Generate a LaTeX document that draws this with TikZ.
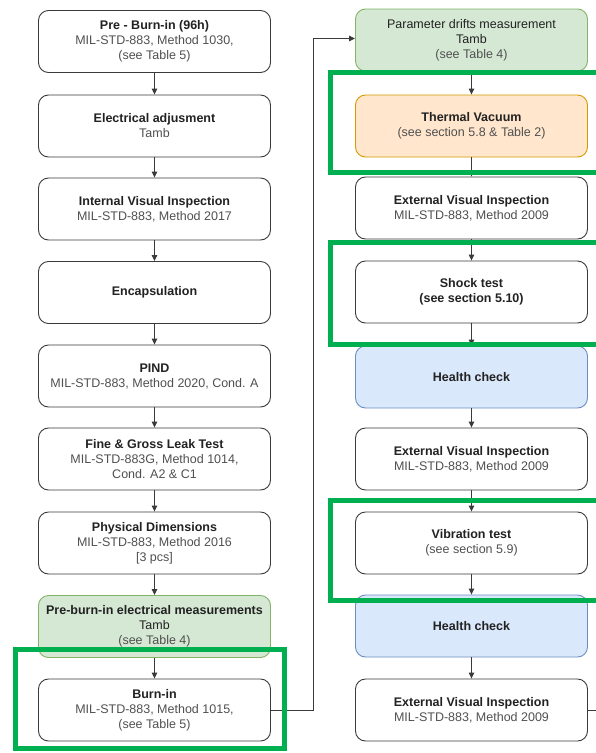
\documentclass[tikz,border=0pt]{standalone}
\usepackage{fontspec}
\setmainfont{Liberation Sans}
\usetikzlibrary{arrows.meta}
\definecolor{boxline}{HTML}{3A3A3A}
\definecolor{titlec}{HTML}{222222}
\definecolor{subc}{HTML}{505050}
\definecolor{gfill}{HTML}{D5E8D4}
\definecolor{gline}{HTML}{82B366}
\definecolor{ofill}{HTML}{FFE6CC}
\definecolor{oline}{HTML}{D79B00}
\definecolor{bfill}{HTML}{DAE8FC}
\definecolor{bline}{HTML}{6C8EBF}
\definecolor{frame}{HTML}{00B050}
\newcommand{\ttl}[1]{{\bfseries\color{titlec}#1}}
\newcommand{\sbt}[1]{{\color{subc}#1}}
\newcommand{\drk}[1]{{\color{titlec}#1}}
\begin{document}
\begin{tikzpicture}[x=1pt,y=-1pt,
  stepbox/.style={draw=boxline, line width=0.9pt, fill=white, rounded corners=10pt,
    minimum width=232pt, minimum height=62pt, inner sep=0pt, align=center,
    font=\fontsize{12.5}{15}\selectfont},
  greenbox/.style={stepbox, draw=gline, fill=gfill},
  orangebox/.style={stepbox, draw=oline, fill=ofill},
  bluebox/.style={stepbox, draw=bline, fill=bfill},
  arr/.style={draw=boxline, line width=0.9pt, -{Triangle[length=6pt,width=5.5pt]}},
  conn/.style={draw=boxline, line width=0.9pt},
  frm/.style={draw=frame, line width=5pt}
]
\useasboundingbox (0,0) rectangle (596,753);
\clip (0,0) rectangle (596,753);
\fill[white] (0,0) rectangle (596,753);

% left column
\node[stepbox] (l1) at (154.5,41.5) {\ttl{Pre - Burn-in (96h)}\\\sbt{MIL-STD-883, Method 1030,}\\\sbt{(see Table 5)}};
\node[stepbox] (l2) at (154.5,126) {\ttl{Electrical adjusment}\\\sbt{Tamb}};
\node[stepbox] (l3) at (154.5,209) {\ttl{Internal Visual Inspection}\\\sbt{MIL-STD-883, Method 2017}};
\node[stepbox] (l4) at (154.5,292.5) {\ttl{Encapsulation}};
\node[stepbox] (l5) at (154.5,376) {\ttl{PIND}\\\sbt{MIL-STD-883, Method 2020, Cond. A}};
\node[stepbox] (l6) at (154.5,459) {\ttl{Fine \& Gross Leak Test}\\\sbt{MIL-STD-883G, Method 1014,}\\\sbt{Cond. A2 \& C1}};
\node[stepbox] (l7) at (154.5,543) {\ttl{Physical Dimensions}\\\sbt{MIL-STD-883, Method 2016}\\\sbt{[3 pcs]}};
\node[greenbox] (l8) at (154.5,626.5) {\ttl{Pre-burn-in electrical measurements}\\\drk{Tamb}\\\sbt{(see Table 4)}};
\node[stepbox] (l9) at (154.5,710) {\ttl{Burn-in}\\\sbt{MIL-STD-883, Method 1015,}\\\sbt{(see Table 5)}};

% right column
\node[greenbox] (r1) at (471.5,40) {\drk{Parameter drifts measurement}\\\drk{Tamb}\\\sbt{(see Table 4)}};
\node[orangebox] (r2) at (471.5,126) {\ttl{Thermal Vacuum}\\\sbt{(see section 5.8 \& Table 2)}};
\node[stepbox] (r3) at (471.5,208) {\ttl{External Visual Inspection}\\\sbt{MIL-STD-883, Method 2009}};
\node[stepbox] (r4) at (471.5,292) {\ttl{Shock test}\\\ttl{(see section 5.10)}};
\node[bluebox] (r5) at (471.5,377) {\ttl{Health check}};
\node[stepbox] (r6) at (471.5,459) {\ttl{External Visual Inspection}\\\sbt{MIL-STD-883, Method 2009}};
\node[stepbox] (r7) at (471.5,543) {\ttl{Vibration test}\\\sbt{(see section 5.9)}};
\node[bluebox] (r8) at (471.5,626) {\ttl{Health check}};
\node[stepbox] (r9) at (471.5,710) {\ttl{External Visual Inspection}\\\sbt{MIL-STD-883, Method 2009}};

% connectors
\foreach \a/\b in {l1/l2,l2/l3,l3/l4,l4/l5,l5/l6,l6/l7,l7/l8,l8/l9,
                   r1/r2,r2/r3,r3/r4,r4/r5,r5/r6,r6/r7,r7/r8,r8/r9}
  \draw[arr] (\a.south) -- (\b.north);
\coordinate (turn) at (313,710);
\draw[arr] (l9.east) -- (turn) |- ([yshift=1.5pt]r1.west);
\draw[conn] (r9.east) -- ++(20,0) coordinate (outr);

% green frames
\draw[frm] (15.5,649) rectangle (284.5,748.5);
\draw[frm] (330.5,72) rectangle (640,172.5);
\draw[frm] (330.5,242) rectangle (640,344);
\draw[frm] (330.5,500) rectangle (640,600);
\end{tikzpicture}
\end{document}
